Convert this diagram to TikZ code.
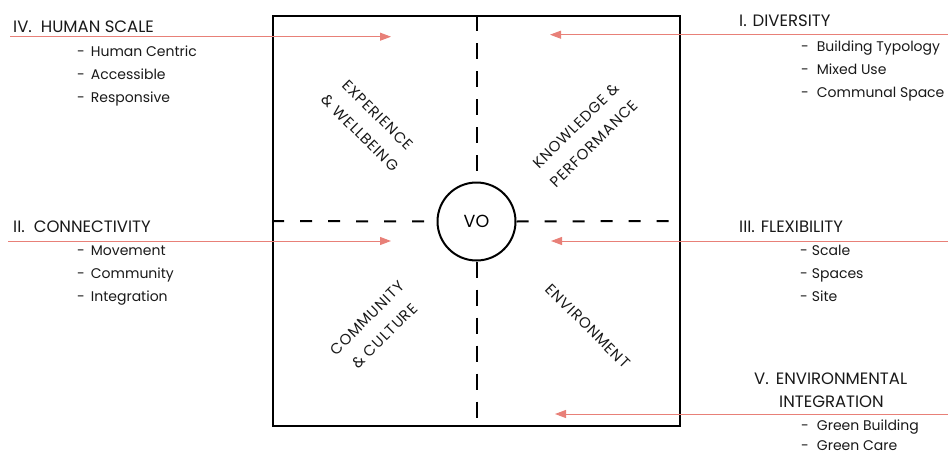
\documentclass[tikz,border=0pt]{standalone}
\usepackage{fontspec}
\setmainfont{Poppins}
\usepackage{tikz}
\usetikzlibrary{arrows.meta,positioning}
\definecolor{rosso}{RGB}{232,128,120}
\tikzstyle{titolo} = [anchor=base west,inner sep=0pt,font=\fontsize{16.5}{18}\selectfont,text=black!90]
\tikzstyle{voce} = [anchor=base west,inner sep=0pt,font=\fontsize{14}{16}\selectfont,text=black!90]
\tikzstyle{diagonale} = [align=center,inner sep=0pt,font=\fontsize{15}{25}\selectfont\addfontfeature{LetterSpace=6},text=black!90]
\tikzstyle{trattoV} = [line width=2pt,dash pattern=on 16pt off 12pt]
\tikzstyle{trattoO} = [line width=2pt,dash pattern=on 12pt off 16pt]
\tikzstyle{freccia} = [rosso,line width=1pt,-{Triangle[length=11pt,width=8pt]}]

\begin{document}
\begin{tikzpicture}[x=1pt,y=-1pt]
\useasboundingbox (0,0) rectangle (948,455);

% 1 pixel = 1pt

\node (quadro) [draw,line width=2pt,minimum width=407pt,minimum height=410pt] at (476.5,221) {};
\node (vo) [circle,draw,fill=white,line width=2pt,minimum size=78pt,inner sep=0pt,font=\fontsize{17.5}{19}\selectfont] at (476.5,221.5) {VO};

\draw[trattoV] (quadro.north) -- (vo.north);
\draw[trattoV] (vo.south) -- (quadro.south);
\draw[trattoO] (quadro.west) -- (vo.west);
\draw[trattoO] (vo.east) -- (quadro.east);

\node (esp) [diagonale,rotate=-45] at (369,124) {EXPERIENCE\\\& WELLBEING};
\node (con) [diagonale,rotate=45] at (585,135) {KNOWLEDGE \&\\PERFORMANCE};
\node (com) [diagonale,rotate=45] at (376,327) {COMMUNITY\\\& CULTURE};
\node (amb) [diagonale,rotate=-45] at (588,326) {ENVIRONMENT};

% left side
\node (hs)  [titolo] at (13,32) {IV.\hspace{9pt}HUMAN SCALE};
\node (hs1) [voce] at (77,56) {-\hspace{6pt}Human Centric};
\node (hs2) [voce] at (77,79) {-\hspace{6pt}Accessible};
\node (hs3) [voce] at (77,102) {-\hspace{6pt}Responsive};

\node (cn)  [titolo] at (13,232) {II.\hspace{9pt}CONNECTIVITY};
\node (cn1) [voce] at (77,255) {-\hspace{6pt}Movement};
\node (cn2) [voce] at (77,278) {-\hspace{6pt}Community};
\node (cn3) [voce] at (77,301) {-\hspace{6pt}Integration};

% right side
\node (dv)  [titolo] at (739,27) {I.\hspace{6pt}DIVERSITY};
\node (dv1) [voce] at (801,51) {-\hspace{8pt}Building Typology};
\node (dv2) [voce] at (801,74) {-\hspace{8pt}Mixed Use};
\node (dv3) [voce] at (801,97) {-\hspace{8pt}Communal Space};

\node (fl)  [titolo] at (739,232) {III.\hspace{6pt}FLEXIBILITY};
\node (fl1) [voce] at (800,255) {-\hspace{4pt}Scale};
\node (fl2) [voce] at (800,278) {-\hspace{4pt}Spaces};
\node (fl3) [voce] at (800,301) {-\hspace{4pt}Site};

\node (ei)  [titolo] at (754,384) {V.\hspace{7pt}ENVIRONMENTAL};
\node (ei0) [titolo] at (779,407) {INTEGRATION};
\node (ei1) [voce] at (801,430) {-\hspace{8pt}Green Building};
\node (ei2) [voce] at (801,450) {-\hspace{8pt}Green Care};

% arrows
\coordinate (hsA) at (10,36.7);
\coordinate (hsB) at (391,36.7);
\coordinate (cnA) at (8,241);
\coordinate (cnB) at (391,241);
\coordinate (dvA) at (948,34.7);
\coordinate (dvB) at (550,34.7);
\coordinate (flA) at (948,241);
\coordinate (flB) at (551,241);
\coordinate (eiA) at (948,414);
\coordinate (eiB) at (555,414);

\draw[freccia] (hsA) -- (hsB);
\draw[freccia] (cnA) -- (cnB);
\draw[freccia] (dvA) -- (dvB);
\draw[freccia] (flA) -- (flB);
\draw[freccia] (eiA) -- (eiB);
\end{tikzpicture}
\end{document}
